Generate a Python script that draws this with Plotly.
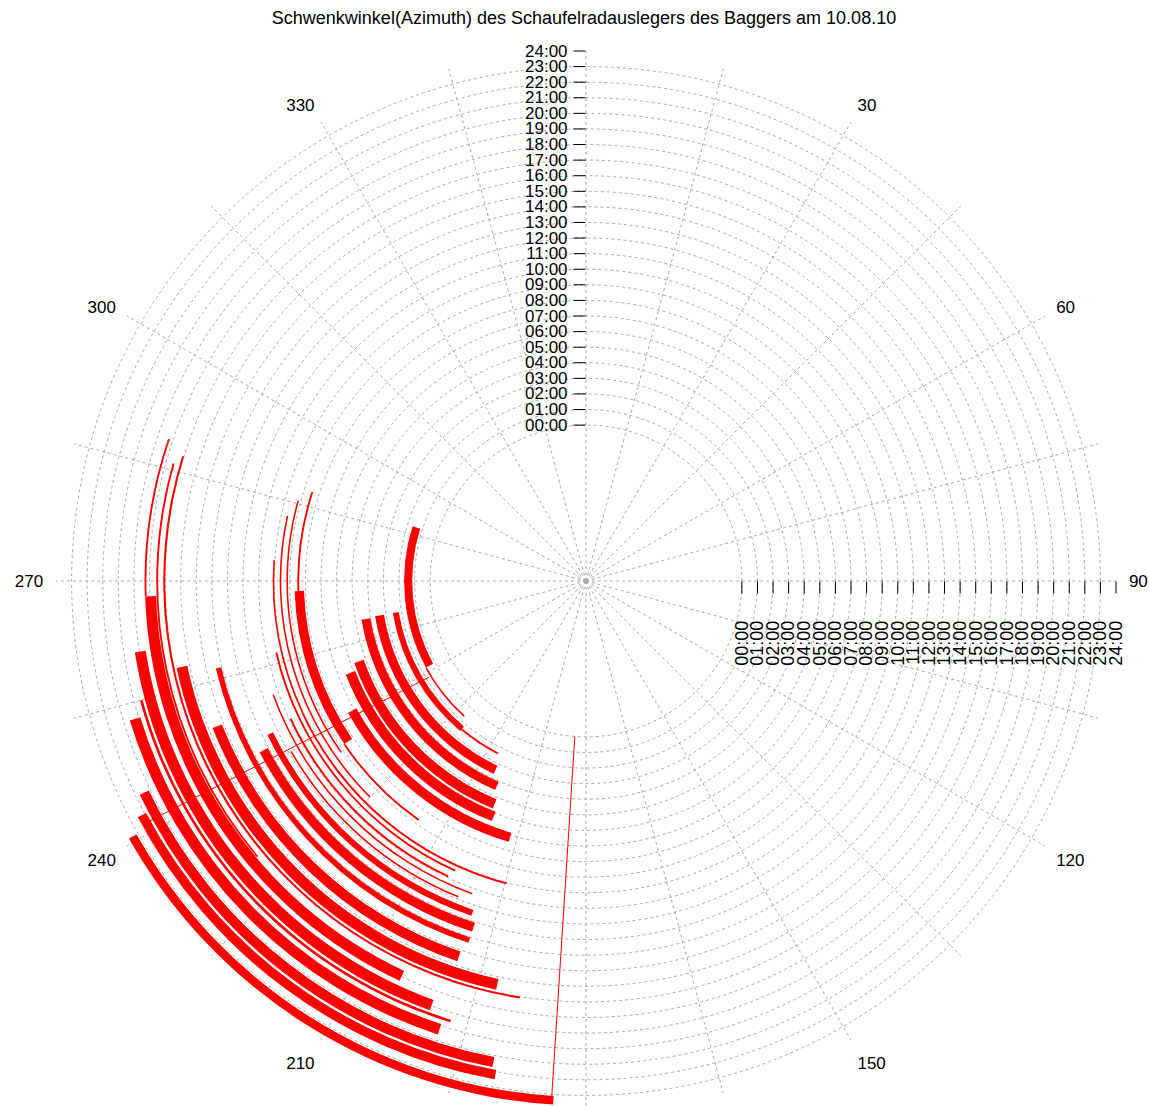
import plotly.graph_objects as go

title_text = "Schwenkwinkel(Azimuth) des Schaufelradauslegers des Baggers am 10.08.10"

hour_ticks = list(range(0, 25))
hour_labels = ["00:00", "01:00", "02:00", "03:00", "04:00", "05:00", "06:00", "07:00",
               "08:00", "09:00", "10:00", "11:00", "12:00", "13:00", "14:00", "15:00",
               "16:00", "17:00", "18:00", "19:00", "20:00", "21:00", "22:00", "23:00", "24:00"]
angle_ticks = list(range(0, 360, 15))
angle_labels = ["", "", "30", "", "60", "", "90", "", "120", "", "150", "", "",
                "", "210", "", "240", "", "270", "", "300", "", "330", ""]

# swing bands: time span (hours) and azimuth span (degrees)
band_h_in = [1.15, 1.62, 2.18, 2.36, 3.14, 4.04, 5.13, 5.90, 6.85, 8.10, 8.40, 8.65,
             9.12, 9.55, 10.00, 10.00, 10.33, 10.85, 11.30, 11.80, 12.30, 13.05, 14.05,
             15.10, 16.15, 16.99, 17.45, 17.60, 18.20, 18.60, 19.45, 19.90, 21.10, 21.90,
             23.10]
band_h_out = [1.67, 1.72, 2.56, 2.48, 3.72, 4.62, 5.77, 6.54, 7.45, 8.70, 8.52, 8.77,
              9.22, 9.65, 10.10, 10.12, 10.45, 10.97, 11.40, 11.90, 12.70, 13.65, 14.40,
              15.75, 16.85, 17.12, 17.57, 18.30, 18.32, 19.30, 19.62, 20.60, 21.75, 22.50,
              23.65]
band_theta_lo = [241.6, 222.0, 220.0, 207.0, 205.6, 203.5, 202.3, 201.4, 196.5, 236.0,
                 268.0, 215.0, 235.0, 225.0, 245.0, 194.7, 204.3, 205.0, 200.0, 202.0,
                 198.9, 198.0, 198.0, 198.7, 192.4, 189.0, 230.0, 205.0, 268.0, 200.0,
                 197.1, 198.1, 190.9, 190.4, 183.6]
band_theta_hi = [287.5, 241.6, 260.6, 220.0, 260.5, 260.2, 250.5, 248.7, 241.0, 268.0,
                 288.0, 236.0, 285.6, 282.3, 273.8, 245.0, 257.0, 245.0, 250.0, 240.0,
                 244.2, 242.3, 256.7, 248.5, 258.0, 287.2, 285.9, 268.0, 288.8, 261.0,
                 255.0, 253.0, 244.4, 242.2, 240.6]

# straight jumps between distant samples
jump1_h = [0.0, 23.6]
jump1_theta = [184.1, 183.8]
jump2_h = [1.8, 22.1]
jump2_theta = [238.5, 241.2]

east_labels = [t + "\u00a0" * 4 for t in hour_labels]

FONT = "Arial, 'Liberation Sans', Helvetica, sans-serif"
# body margin is removed in the page; the circle's bottom edge runs just past the window
W, H = 1149, 1111
cx, rad = 586.0, 530.0
dom_x = [(cx - rad) / W, (cx + rad) / W]
dom_y = [0.0, (2 * rad) / H]

fig = go.Figure()
fig.add_trace(go.Barpolar(
    base=band_h_in,
    r=[o - i for i, o in zip(band_h_in, band_h_out)],
    theta=[(a + b) / 2 for a, b in zip(band_theta_lo, band_theta_hi)],
    width=[b - a for a, b in zip(band_theta_lo, band_theta_hi)],
    marker=dict(color="#ff0000", line=dict(width=0)),
    subplot="polar", showlegend=False, hoverinfo="skip"))
for hh, tt in [(jump1_h, jump1_theta), (jump2_h, jump2_theta)]:
    fig.add_trace(go.Scatterpolar(r=hh, theta=tt, mode="lines",
                                  line=dict(color="#ff0000", width=1),
                                  subplot="polar", showlegend=False, hoverinfo="skip"))
# invisible trace to instantiate second polar (east axis labels)
fig.add_trace(go.Scatterpolar(r=[0], theta=[0], mode="markers", marker=dict(opacity=0),
                              subplot="polar2", showlegend=False, hoverinfo="skip"))

grid = dict(showgrid=True, gridcolor="#a8a8a8", griddash="dot", gridwidth=1)
tickfont = dict(family=FONT, size=17, color="black")

fig.update_layout(
    template="none",
    width=W, height=H,
    margin=dict(l=0, r=0, t=0, b=0),
    paper_bgcolor="white",
    title=dict(text=title_text, x=584 / W, xanchor="center", y=1 - 18 / H, yanchor="middle",
               font=dict(family=FONT, size=18, color="black")),
    polar=dict(
        domain=dict(x=dom_x, y=dom_y),
        bgcolor="rgba(0,0,0,0)",
        bargap=0,
        angularaxis=dict(rotation=90, direction="clockwise", tickmode="array",
                         tickvals=angle_ticks, ticktext=angle_labels, showline=False,
                         ticks="outside", ticklen=9, tickcolor="rgba(0,0,0,0)",
                         tickfont=tickfont, **grid),
        radialaxis=dict(range=[-10, 24], angle=90, side="counterclockwise",
                        tickmode="array", tickvals=hour_ticks, ticktext=hour_labels,
                        tickangle=90, showline=False, ticks="outside", ticklen=12,
                        tickcolor="black", tickfont=tickfont, **grid),
    ),
    polar2=dict(
        domain=dict(x=dom_x, y=dom_y),
        bgcolor="rgba(0,0,0,0)",
        angularaxis=dict(visible=False, rotation=90, direction="clockwise"),
        radialaxis=dict(range=[-10, 24], angle=0, side="clockwise",
                        tickmode="array", tickvals=hour_ticks, ticktext=east_labels,
                        tickangle=-90, showline=False, showgrid=False, ticks="outside",
                        ticklen=12, tickcolor="black",
                        tickfont=dict(family=FONT, size=18, color="black")),
    ),
)

fig.write_html("out.html",
               config={"displayModeBar": False},
               post_script="document.body.style.margin='0';"
                           "document.documentElement.style.overflow='hidden';"
                           "document.body.style.overflow='hidden';")
